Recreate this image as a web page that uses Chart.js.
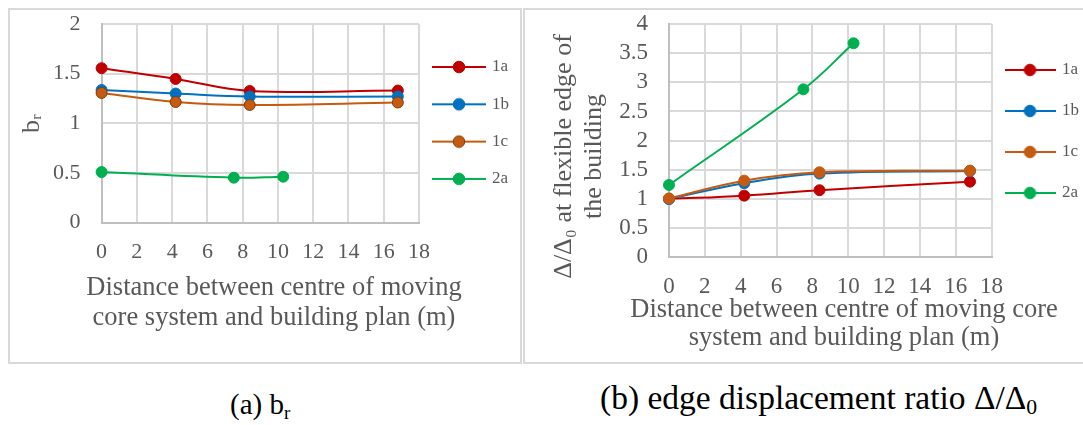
<!DOCTYPE html>
<html>
<head>
<meta charset="utf-8">
<script src="https://cdn.jsdelivr.net/npm/chart.js@4.4.1/dist/chart.umd.min.js"></script>
<style>
  html, body { margin: 0; padding: 0; background: #ffffff; overflow: hidden; }
  body { width: 1083px; height: 425px; position: relative; }
  .box { position: absolute; border: 2px solid #d9d9d9; box-sizing: border-box; background: #fff; }
  .cap { position: absolute; font-family: "Liberation Serif", "Times New Roman", serif; color: #000; white-space: nowrap; line-height: 1; }
  .cap sub { font-size: 0.65em; vertical-align: -0.25em; line-height: 0; }
  canvas { position: absolute; }
</style>
</head>
<body>
<div class="box" style="left:8px; top:8px; width:514px; height:356px;"></div>
<div class="box" style="left:523px; top:8px; width:600px; height:356px;"></div>
<canvas id="chartA" width="511" height="353" style="left:9px; top:9px; width:511px; height:353px;"></canvas>
<canvas id="chartB" width="600" height="353" style="left:525px; top:9px; width:600px; height:353px;"></canvas>
<div class="cap" id="capA" style="left:230px; top:390px; font-size:29px;">(a) b<sub>r</sub></div>
<div class="cap" id="capB" style="left:600px; top:381px; font-size:33.5px;">(b) edge displacement ratio Δ/Δ<sub>0</sub></div>
<script>
// ---------------- data ----------------
const seriesNames = ['1a', '1b', '1c', '2a'];
const xSeries1 = [0, 4.2, 8.4, 16.8];        // distance (m) for 1a, 1b, 1c
const xSeries2a = [0, 7.5, 10.3];            // distance (m) for 2a

// (a) b_r
const br1a = [1.555, 1.447, 1.326, 1.33];
const br1b = [1.336, 1.30, 1.27, 1.27];
const br1c = [1.306, 1.215, 1.185, 1.21];
const br2a = [0.51, 0.453, 0.463];

// (b) edge displacement ratio
const dr1a = [1.0, 1.057, 1.15, 1.297];
const dr1b = [1.0, 1.27, 1.435, 1.48];
const dr1c = [1.01, 1.314, 1.458, 1.486];
const dr2a = [1.24, 2.88, 3.67];

const xTickLabels = ['0', '2', '4', '6', '8', '10', '12', '14', '16', '18'];
const yTickLabelsA = ['0', '0.5', '1', '1.5', '2'];
const yTickLabelsB = ['0', '0.5', '1', '1.5', '2', '2.5', '3', '3.5', '4'];

const xTitleA = ['Distance between centre of moving', 'core system and building plan (m)'];
const xTitleB = ['Distance between centre of moving core', 'system and building plan (m)'];
const yTitleA = 'b\u1D63';
const yTitleB = ['\u0394/\u0394\u2080 at flexible edge of', 'the building'];

// ---------------- styles ----------------
const colors = { '1a': '#C00000', '1b': '#0070C0', '1c': '#C55A11', '2a': '#00B050' };
const FONT = '"Liberation Serif", "Times New Roman", serif';
const TEXT = '#595959';
const GRID = '#d9d9d9';
const AXIS = '#bfbfbf';

function pts(xs, ys) { return xs.map((x, i) => ({ x: x, y: ys[i] })); }

function makeDataset(name, xs, ys, order, markerBorder) {
  const c = colors[name];
  return {
    label: name,
    data: pts(xs, ys),
    borderColor: c,
    backgroundColor: c,
    borderWidth: 2,
    pointRadius: 5.5,
    pointHoverRadius: 5.5,
    pointBackgroundColor: c,
    pointBorderColor: markerBorder || c,
    pointBorderWidth: 1,
    pointStyle: 'circle',
    tension: 0.4,
    fill: false,
    clip: false,
    order: order
  };
}

function legendImage(color, border, lineLen) {
  const cv = document.createElement('canvas');
  cv.width = lineLen; cv.height = 16;
  const ctx = cv.getContext('2d');
  ctx.strokeStyle = color; ctx.lineWidth = 2;
  ctx.beginPath(); ctx.moveTo(0, 8); ctx.lineTo(lineLen, 8); ctx.stroke();
  ctx.beginPath(); ctx.arc(lineLen / 2, 8, 5.8, 0, Math.PI * 2);
  ctx.fillStyle = color; ctx.fill();
  ctx.lineWidth = 1; ctx.strokeStyle = border || color; ctx.stroke();
  return cv;
}

// places the legend box and the axis titles (layout only)
function placement(cfg) {
  return {
    id: 'placement',
    afterInit(chart) {
      const lg = chart.legend;
      const fit = lg.fit.bind(lg);
      lg.fit = function () { fit(); this.width = cfg.legendWidth; };
    },
    afterLayout(chart) {
      const lg = chart.legend;
      const h = lg.height;
      lg.left = cfg.legendLeft; lg.right = cfg.legendLeft + cfg.legendWidth;
      lg.top = cfg.legendTop; lg.bottom = cfg.legendTop + h;
      const sx = chart.scales.x, sy = chart.scales.y;
      if (!sx._tp) {
        const dx = sx.drawTitle;
        sx.drawTitle = function () {
          const l = this.left, r = this.right;
          this.left = cfg.xTitleCenter - 400; this.right = cfg.xTitleCenter + 400;
          dx.call(this);
          this.left = l; this.right = r;
        };
        sx._tp = true;
      }
      if (!sy._tp) {
        const dy = sy.drawTitle;
        sy.drawTitle = function () {
          const t = this.top, b = this.bottom;
          this.top = cfg.yTitleCenter - 300; this.bottom = cfg.yTitleCenter + 300;
          dy.call(this);
          this.top = t; this.bottom = b;
        };
        sy._tp = true;
      }
    }
  };
}

function buildChart(id, opts) {
  const images = opts.datasets.map(d => legendImage(d.borderColor, d.pointBorderColor, opts.legendLine));
  return new Chart(document.getElementById(id), {
    type: 'line',
    data: { datasets: opts.datasets },
    options: {
      responsive: false,
      animation: false,
      events: [],
      layout: { padding: { top: 15, left: 0, right: 0, bottom: 0 } },
      plugins: {
        tooltip: { enabled: false },
        legend: {
          display: true,
          position: 'right',
          align: 'start',
          labels: {
            usePointStyle: true,
            pointStyleWidth: opts.legendBox,
            boxHeight: 17,
            padding: opts.legendPad,
            color: TEXT,
            font: { family: FONT, size: 17 },
            sort: (a, b) => a.datasetIndex - b.datasetIndex,
            generateLabels(chart) {
              const items = Chart.defaults.plugins.legend.labels.generateLabels(chart);
              items.forEach(it => { it.pointStyle = images[it.datasetIndex]; });
              return items;
            }
          }
        }
      },
      scales: {
        x: {
          type: 'linear',
          min: 0, max: 18,
          afterFit: s => { s.height = opts.xHeight; },
          ticks: {
            stepSize: 2,
            padding: 0,
            color: TEXT,
            font: { family: FONT, size: opts.tickSize, lineHeight: 1.2 },
            maxRotation: 0,
            autoSkip: false,
            callback: (v, i) => xTickLabels[i]
          },
          grid: { color: GRID, lineWidth: 2, drawTicks: true, tickLength: 16.3, tickColor: 'rgba(0,0,0,0)' },
          border: { color: AXIS, width: 2 },
          title: {
            display: true,
            text: opts.xTitle,
            color: TEXT,
            font: { family: FONT, size: 26.5, lineHeight: opts.xTitleLH },
            padding: { top: 0, bottom: opts.xTitlePadBottom }
          }
        },
        y: {
          type: 'linear',
          min: 0, max: opts.yMax,
          afterFit: s => { s.width = opts.yWidth; },
          ticks: {
            stepSize: 0.5,
            padding: 0,
            color: TEXT,
            font: { family: FONT, size: opts.tickSize, lineHeight: 1.0 },
            callback: (v, i) => opts.yTicks[i]
          },
          grid: { color: GRID, lineWidth: 2, drawTicks: true, tickLength: 21, tickColor: 'rgba(0,0,0,0)' },
          border: { color: AXIS, width: 2 },
          title: {
            display: true,
            text: opts.yTitle,
            color: TEXT,
            font: { family: FONT, size: 26, lineHeight: opts.yTitleLH },
            padding: { top: opts.yTitlePadTop, bottom: 0 }
          }
        }
      }
    },
    plugins: [placement(opts.place)]
  });
}

// chart (a)
buildChart('chartA', {
  datasets: [
    makeDataset('1a', xSeries1, br1a, 4),
    makeDataset('1b', xSeries1, br1b, 3),
    makeDataset('1c', xSeries1, br1c, 2, '#843C0C'),
    makeDataset('2a', xSeries2a, br2a, 1)
  ],
  yMax: 2,
  yTicks: yTickLabelsA,
  tickSize: 22,
  yWidth: 92.6,
  xHeight: 139.3,
  xTitle: xTitleA,
  xTitleLH: 30 / 26.5,
  xTitlePadBottom: 29,
  yTitle: yTitleA,
  yTitleLH: 30 / 26,
  yTitlePadTop: 8,
  legendBox: 49,
  legendLine: 54,
  legendPad: 20.3,
  place: {
    legendLeft: 425.5 - 20.3, legendWidth: 511 - 410, legendTop: 58 - 8.5 - 20.3,
    xTitleCenter: 274 - 9, yTitleCenter: 123.5 - 9
  }
});

// chart (b)
buildChart('chartB', {
  datasets: [
    makeDataset('1a', xSeries1, dr1a, 4),
    makeDataset('1b', xSeries1, dr1b, 3),
    makeDataset('1c', xSeries1, dr1c, 2),
    makeDataset('2a', xSeries2a, dr2a, 1)
  ],
  yMax: 4,
  yTicks: yTickLabelsB,
  tickSize: 23,
  yWidth: 144,
  xHeight: 104.7,
  xTitle: xTitleB,
  xTitleLH: 28 / 26.5,
  xTitlePadBottom: 10,
  yTitle: yTitleB,
  yTitleLH: 30 / 26,
  yTitlePadTop: 24,
  legendBox: 47,
  legendLine: 51,
  legendPad: 24,
  place: {
    legendLeft: 481.5 - 24, legendWidth: 600 - 466.5, legendTop: 61 - 8.5 - 24,
    xTitleCenter: 844 - 525, yTitleCenter: 156.5 - 9
  }
});
</script>
</body>
</html>
